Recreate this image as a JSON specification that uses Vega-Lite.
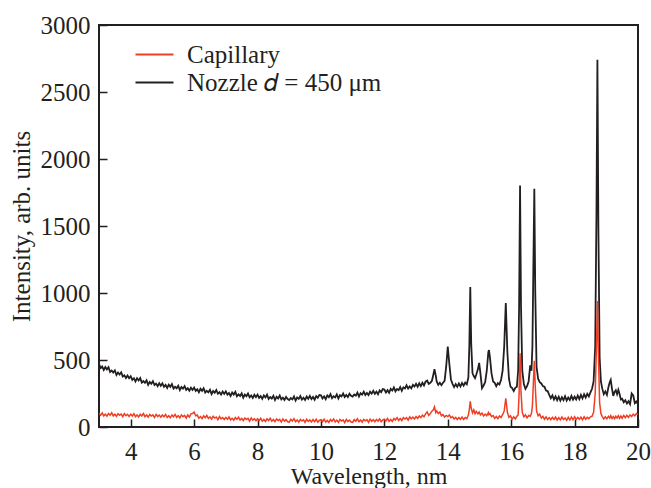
{
"$schema": "https://vega.github.io/schema/vega-lite/v6.json",
"width": 539, "height": 402,
"autosize": {"type": "none"},
"padding": {"left": 99, "top": 25, "right": 13, "bottom": 61},
"background": "white",
"config": {
  "view": {"stroke": "#231f20", "strokeWidth": 2},
  "font": "Liberation Serif",
  "axis": {"grid": false, "domain": false, "tickSize": -8, "tickColor": "#231f20", "tickWidth": 1.5, "labelColor": "#231f20", "titleColor": "#231f20", "labelFontSize": 25, "titleFontSize": 25, "titleFontWeight": "normal", "labelFont": "Liberation Serif", "titleFont": "Liberation Serif"},
  "legend": {"labelFont": "Liberation Serif", "labelFontSize": 25, "labelColor": "#231f20", "labelLimit": 400}
},
"data": {"values": [
{"x":3.00,"n":469,"c":102},{"x":3.05,"n":441,"c":88},{"x":3.10,"n":451,"c":105},{"x":3.15,"n":426,"c":83},{"x":3.20,"n":448,"c":96},{"x":3.25,"n":430,"c":81},{"x":3.30,"n":446,"c":101},{"x":3.35,"n":411,"c":88},{"x":3.40,"n":421,"c":106},{"x":3.45,"n":407,"c":83},{"x":3.50,"n":423,"c":96},{"x":3.55,"n":388,"c":80},{"x":3.60,"n":407,"c":100},{"x":3.65,"n":392,"c":88},{"x":3.70,"n":408,"c":97},{"x":3.75,"n":377,"c":77},{"x":3.80,"n":386,"c":100},{"x":3.85,"n":365,"c":84},{"x":3.90,"n":384,"c":95},{"x":3.95,"n":364,"c":79},
{"x":4.00,"n":379,"c":96},{"x":4.05,"n":352,"c":82},{"x":4.10,"n":364,"c":99},{"x":4.15,"n":340,"c":77},{"x":4.20,"n":364,"c":90},{"x":4.25,"n":347,"c":75},{"x":4.30,"n":365,"c":95},{"x":4.35,"n":331,"c":82},{"x":4.40,"n":343,"c":100},{"x":4.45,"n":330,"c":77},{"x":4.50,"n":348,"c":90},{"x":4.55,"n":315,"c":74},{"x":4.60,"n":336,"c":94},{"x":4.65,"n":323,"c":82},{"x":4.70,"n":342,"c":91},{"x":4.75,"n":313,"c":71},{"x":4.80,"n":324,"c":94},{"x":4.85,"n":305,"c":78},{"x":4.90,"n":327,"c":89},{"x":4.95,"n":308,"c":73},
{"x":5.00,"n":326,"c":90},{"x":5.05,"n":300,"c":76},{"x":5.10,"n":314,"c":94},{"x":5.15,"n":291,"c":71},{"x":5.20,"n":316,"c":84},{"x":5.25,"n":300,"c":69},{"x":5.30,"n":320,"c":90},{"x":5.35,"n":287,"c":77},{"x":5.40,"n":300,"c":94},{"x":5.45,"n":289,"c":72},{"x":5.50,"n":308,"c":85},{"x":5.55,"n":276,"c":69},{"x":5.60,"n":298,"c":90},{"x":5.65,"n":286,"c":77},{"x":5.70,"n":305,"c":86},{"x":5.75,"n":277,"c":66},{"x":5.80,"n":289,"c":90},{"x":5.85,"n":271,"c":74},{"x":5.90,"n":293,"c":98},{"x":5.95,"n":276,"c":100},
{"x":6.00,"n":294,"c":112},{"x":6.05,"n":269,"c":84},{"x":6.10,"n":282,"c":89},{"x":6.15,"n":260,"c":66},{"x":6.20,"n":285,"c":78},{"x":6.25,"n":270,"c":63},{"x":6.30,"n":289,"c":83},{"x":6.35,"n":257,"c":69},{"x":6.40,"n":270,"c":86},{"x":6.45,"n":259,"c":64},{"x":6.50,"n":278,"c":76},{"x":6.55,"n":246,"c":59},{"x":6.60,"n":268,"c":80},{"x":6.65,"n":256,"c":67},{"x":6.70,"n":276,"c":75},{"x":6.75,"n":248,"c":55},{"x":6.80,"n":260,"c":78},{"x":6.85,"n":242,"c":61},{"x":6.90,"n":265,"c":71},{"x":6.95,"n":247,"c":56},
{"x":7.00,"n":266,"c":72},{"x":7.05,"n":241,"c":58},{"x":7.10,"n":254,"c":75},{"x":7.15,"n":232,"c":53},{"x":7.20,"n":257,"c":65},{"x":7.25,"n":242,"c":50},{"x":7.30,"n":262,"c":70},{"x":7.35,"n":229,"c":57},{"x":7.40,"n":243,"c":74},{"x":7.45,"n":231,"c":52},{"x":7.50,"n":251,"c":64},{"x":7.55,"n":219,"c":48},{"x":7.60,"n":242,"c":68},{"x":7.65,"n":230,"c":56},{"x":7.70,"n":250,"c":64},{"x":7.75,"n":222,"c":44},{"x":7.80,"n":235,"c":67},{"x":7.85,"n":217,"c":51},{"x":7.90,"n":240,"c":61},{"x":7.95,"n":223,"c":46},
{"x":8.00,"n":242,"c":62},{"x":8.05,"n":217,"c":48},{"x":8.10,"n":231,"c":65},{"x":8.15,"n":210,"c":43},{"x":8.20,"n":236,"c":56},{"x":8.25,"n":221,"c":41},{"x":8.30,"n":241,"c":61},{"x":8.35,"n":209,"c":48},{"x":8.40,"n":224,"c":66},{"x":8.45,"n":213,"c":43},{"x":8.50,"n":233,"c":56},{"x":8.55,"n":201,"c":40},{"x":8.60,"n":225,"c":60},{"x":8.65,"n":213,"c":48},{"x":8.70,"n":234,"c":57},{"x":8.75,"n":206,"c":37},{"x":8.80,"n":219,"c":60},{"x":8.85,"n":202,"c":44},{"x":8.90,"n":225,"c":55},{"x":8.95,"n":209,"c":39},
{"x":9.00,"n":201,"c":36},{"x":9.05,"n":216,"c":57},{"x":9.10,"n":206,"c":44},{"x":9.15,"n":228,"c":62},{"x":9.20,"n":197,"c":40},{"x":9.25,"n":221,"c":53},{"x":9.30,"n":210,"c":36},{"x":9.35,"n":231,"c":57},{"x":9.40,"n":205,"c":45},{"x":9.45,"n":219,"c":54},{"x":9.50,"n":202,"c":34},{"x":9.55,"n":227,"c":58},{"x":9.60,"n":211,"c":42},{"x":9.65,"n":232,"c":53},{"x":9.70,"n":208,"c":38},{"x":9.75,"n":224,"c":55},{"x":9.80,"n":204,"c":40},{"x":9.85,"n":231,"c":58},{"x":9.90,"n":218,"c":36},{"x":9.95,"n":239,"c":49},
{"x":10.00,"n":236,"c":54},{"x":10.05,"n":213,"c":40},{"x":10.10,"n":229,"c":58},{"x":10.15,"n":208,"c":36},{"x":10.20,"n":236,"c":49},{"x":10.25,"n":223,"c":34},{"x":10.30,"n":245,"c":55},{"x":10.35,"n":215,"c":42},{"x":10.40,"n":230,"c":60},{"x":10.45,"n":221,"c":38},{"x":10.50,"n":243,"c":51},{"x":10.55,"n":213,"c":35},{"x":10.60,"n":238,"c":56},{"x":10.65,"n":228,"c":44},{"x":10.70,"n":250,"c":53},{"x":10.75,"n":224,"c":33},{"x":10.80,"n":239,"c":57},{"x":10.85,"n":223,"c":41},{"x":10.90,"n":248,"c":52},{"x":10.95,"n":233,"c":37},
{"x":11.00,"n":227,"c":34},{"x":11.05,"n":243,"c":55},{"x":11.10,"n":234,"c":42},{"x":11.15,"n":257,"c":61},{"x":11.20,"n":227,"c":39},{"x":11.25,"n":252,"c":52},{"x":11.30,"n":242,"c":36},{"x":11.35,"n":264,"c":57},{"x":11.40,"n":239,"c":46},{"x":11.45,"n":254,"c":55},{"x":11.50,"n":238,"c":35},{"x":11.55,"n":263,"c":59},{"x":11.60,"n":249,"c":43},{"x":11.65,"n":270,"c":55},{"x":11.70,"n":248,"c":40},{"x":11.75,"n":264,"c":57},{"x":11.80,"n":244,"c":43},{"x":11.85,"n":273,"c":61},{"x":11.90,"n":260,"c":40},{"x":11.95,"n":283,"c":53},
{"x":12.00,"n":280,"c":58},{"x":12.05,"n":258,"c":45},{"x":12.10,"n":275,"c":64},{"x":12.15,"n":256,"c":42},{"x":12.20,"n":285,"c":56},{"x":12.25,"n":272,"c":42},{"x":12.30,"n":295,"c":64},{"x":12.35,"n":266,"c":52},{"x":12.40,"n":283,"c":70},{"x":12.45,"n":275,"c":49},{"x":12.50,"n":298,"c":63},{"x":12.55,"n":270,"c":48},{"x":12.60,"n":296,"c":70},{"x":12.65,"n":288,"c":60},{"x":12.70,"n":311,"c":70},{"x":12.75,"n":287,"c":51},{"x":12.80,"n":303,"c":76},{"x":12.85,"n":289,"c":61},{"x":12.90,"n":315,"c":74},{"x":12.95,"n":302,"c":60},
{"x":13.00,"n":322,"c":78},{"x":13.05,"n":300,"c":64},{"x":13.10,"n":326,"c":82},{"x":13.15,"n":305,"c":70},{"x":13.20,"n":330,"c":88},{"x":13.25,"n":310,"c":76},{"x":13.30,"n":338,"c":98},{"x":13.35,"n":346,"c":112},{"x":13.40,"n":322,"c":86},{"x":13.45,"n":330,"c":100},{"x":13.50,"n":345,"c":118},{"x":13.55,"n":395,"c":130},{"x":13.58,"n":432,"c":150},{"x":13.62,"n":385,"c":108},{"x":13.65,"n":340,"c":120},{"x":13.70,"n":315,"c":100},{"x":13.75,"n":330,"c":112},{"x":13.80,"n":312,"c":84},{"x":13.85,"n":330,"c":92},{"x":13.90,"n":345,"c":74},
{"x":13.95,"n":450,"c":86},{"x":14.00,"n":600,"c":78},{"x":14.05,"n":470,"c":90},{"x":14.10,"n":355,"c":68},{"x":14.15,"n":322,"c":78},{"x":14.20,"n":298,"c":60},{"x":14.25,"n":320,"c":72},{"x":14.30,"n":300,"c":56},{"x":14.35,"n":325,"c":70},{"x":14.40,"n":302,"c":58},{"x":14.45,"n":328,"c":74},{"x":14.50,"n":308,"c":56},{"x":14.55,"n":332,"c":70},{"x":14.60,"n":318,"c":62},{"x":14.65,"n":370,"c":90},{"x":14.68,"n":600,"c":130},{"x":14.71,"n":1045,"c":192},{"x":14.74,"n":620,"c":140},{"x":14.78,"n":400,"c":105},{"x":14.82,"n":380,"c":128},
{"x":14.86,"n":365,"c":100},{"x":14.90,"n":392,"c":116},{"x":14.95,"n":430,"c":98},{"x":14.99,"n":478,"c":112},{"x":15.03,"n":400,"c":90},{"x":15.08,"n":290,"c":104},{"x":15.13,"n":310,"c":82},{"x":15.18,"n":335,"c":96},{"x":15.23,"n":420,"c":84},{"x":15.28,"n":560,"c":108},{"x":15.30,"n":574,"c":92},{"x":15.33,"n":520,"c":100},{"x":15.38,"n":400,"c":78},{"x":15.43,"n":340,"c":86},{"x":15.48,"n":330,"c":64},{"x":15.53,"n":305,"c":78},{"x":15.58,"n":328,"c":62},{"x":15.63,"n":318,"c":82},{"x":15.68,"n":350,"c":70},{"x":15.73,"n":420,"c":92},
{"x":15.78,"n":600,"c":120},{"x":15.83,"n":926,"c":213},{"x":15.88,"n":560,"c":110},{"x":15.93,"n":360,"c":72},{"x":15.98,"n":300,"c":84},{"x":16.03,"n":290,"c":58},{"x":16.08,"n":268,"c":76},{"x":16.13,"n":292,"c":60},{"x":16.18,"n":300,"c":80},{"x":16.22,"n":420,"c":90},{"x":16.25,"n":900,"c":250},{"x":16.28,"n":1803,"c":551},{"x":16.31,"n":900,"c":260},{"x":16.35,"n":420,"c":110},{"x":16.40,"n":320,"c":76},{"x":16.45,"n":285,"c":90},{"x":16.50,"n":305,"c":68},{"x":16.55,"n":340,"c":86},{"x":16.60,"n":460,"c":80},{"x":16.64,"n":420,"c":100},
{"x":16.67,"n":600,"c":160},{"x":16.70,"n":1200,"c":330},{"x":16.73,"n":1778,"c":494},{"x":16.76,"n":1000,"c":300},{"x":16.80,"n":450,"c":120},{"x":16.85,"n":360,"c":84},{"x":16.90,"n":335,"c":96},{"x":16.95,"n":325,"c":66},{"x":17.00,"n":305,"c":80},{"x":17.05,"n":300,"c":58},{"x":17.10,"n":272,"c":76},{"x":17.15,"n":268,"c":56},{"x":17.20,"n":240,"c":70},{"x":17.25,"n":215,"c":54},{"x":17.30,"n":236,"c":72},{"x":17.35,"n":205,"c":56},{"x":17.40,"n":228,"c":74},{"x":17.45,"n":200,"c":52},{"x":17.50,"n":226,"c":70},{"x":17.55,"n":196,"c":53},
{"x":17.60,"n":222,"c":74},{"x":17.65,"n":201,"c":55},{"x":17.70,"n":230,"c":68},{"x":17.75,"n":198,"c":50},{"x":17.80,"n":220,"c":72},{"x":17.85,"n":202,"c":52},{"x":17.90,"n":232,"c":75},{"x":17.95,"n":204,"c":55},{"x":18.00,"n":226,"c":76},{"x":18.05,"n":205,"c":56},{"x":18.10,"n":234,"c":72},{"x":18.15,"n":208,"c":58},{"x":18.20,"n":240,"c":74},{"x":18.25,"n":213,"c":54},{"x":18.30,"n":244,"c":76},{"x":18.35,"n":220,"c":58},{"x":18.40,"n":248,"c":72},{"x":18.45,"n":228,"c":62},{"x":18.50,"n":258,"c":76},{"x":18.55,"n":285,"c":80},
{"x":18.60,"n":340,"c":110},{"x":18.65,"n":600,"c":250},{"x":18.69,"n":1600,"c":600},{"x":18.72,"n":2740,"c":940},{"x":18.75,"n":1500,"c":550},{"x":18.79,"n":520,"c":180},{"x":18.83,"n":340,"c":100},{"x":18.87,"n":290,"c":80},{"x":18.92,"n":245,"c":60},{"x":18.97,"n":265,"c":76},{"x":19.02,"n":240,"c":62},{"x":19.07,"n":300,"c":80},{"x":19.11,"n":335,"c":66},{"x":19.14,"n":352,"c":84},{"x":19.18,"n":285,"c":64},{"x":19.22,"n":232,"c":78},{"x":19.26,"n":262,"c":62},{"x":19.30,"n":275,"c":80},{"x":19.34,"n":245,"c":66},{"x":19.38,"n":278,"c":84},
{"x":19.42,"n":245,"c":64},{"x":19.46,"n":205,"c":82},{"x":19.50,"n":210,"c":66},{"x":19.55,"n":185,"c":86},{"x":19.60,"n":200,"c":70},{"x":19.65,"n":175,"c":88},{"x":19.70,"n":192,"c":72},{"x":19.75,"n":170,"c":90},{"x":19.80,"n":250,"c":78},{"x":19.85,"n":235,"c":96},{"x":19.90,"n":178,"c":84},{"x":19.95,"n":190,"c":100},{"x":20.00,"n":170,"c":92}
]},
"layer": [
  {
    "mark": {"type": "line", "strokeWidth": 1.8, "clip": true},
    "encoding": {
      "x": {"field": "x", "type": "quantitative", "scale": {"domain": [3, 20], "nice": false, "zero": false},
        "axis": {"title": "Wavelength, nm", "values": [4,5,6,7,8,9,10,11,12,13,14,15,16,17,18,19,20], "labelExpr": "datum.value % 2 == 0 ? datum.label : ''", "labelPadding": 20, "labelFlush": false, "labelOverlap": false, "titleY": 56, "titleFontSize": 24, "titleBaseline": "alphabetic"}},
      "y": {"field": "n", "type": "quantitative", "scale": {"domain": [0, 3000], "nice": false},
        "axis": {"title": "Intensity, arb. units", "values": [0,250,500,750,1000,1250,1500,1750,2000,2250,2500,2750,3000], "labelExpr": "datum.value % 500 == 0 ? datum.label : ''", "format": "d", "labelPadding": 17, "labelOverlap": false, "labelFlush": false, "titleX": -70, "titleY": 201, "titleAngle": -90, "titleAlign": "center", "titleBaseline": "alphabetic"}},
      "color": {"datum": "Nozzle", "type": "nominal",
        "scale": {"domain": ["Capillary", "Nozzle"], "range": ["#ef3e23", "#231f20"]},
        "legend": {"title": null, "orient": "none", "legendX": 43, "legendY": 17, "symbolType": "M-2,0H2", "symbolSize": 361, "symbolStrokeWidth": 2, "symbolFillColor": "transparent", "labelOffset": 20, "rowPadding": 2, "padding": 0,
          "labelExpr": "datum.label == 'Nozzle' ? 'Nozzle 𝑑 = 450 μm' : datum.label"}}
    }
  },
  {
    "mark": {"type": "line", "strokeWidth": 1.5, "clip": true},
    "encoding": {
      "x": {"field": "x", "type": "quantitative"},
      "y": {"field": "c", "type": "quantitative", "title": "Intensity, arb. units"},
      "color": {"datum": "Capillary", "type": "nominal"}
    }
  }
]
}
